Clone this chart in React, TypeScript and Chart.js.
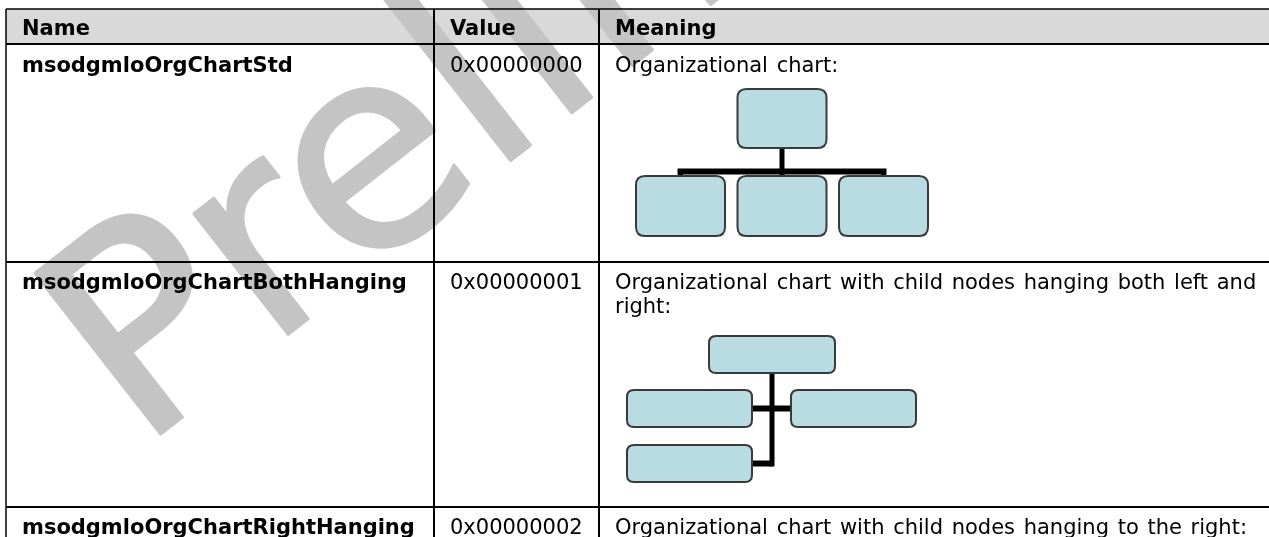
import { useEffect, useRef } from 'react';
import { Chart, registerables } from 'chart.js';

Chart.register(...registerables);

// ---------- data ----------
const COLUMNS = ['Name', 'Value', 'Meaning'];
const NAMES = ['msodgmloOrgChartStd', 'msodgmloOrgChartBothHanging', 'msodgmloOrgChartRightHanging'];
const VALUES = ['0x00000000', '0x00000001', '0x00000002'];
const MEANINGS = [
  'Organizational chart:',
  'Organizational chart with child nodes hanging both left and right:',
  'Organizational chart with child nodes hanging to the right:',
];
// diagram kind per row and number of child nodes shown in it
const DIAGRAM_KINDS = ['standard', 'bothHanging', 'rightHanging'];
const CHILD_COUNTS = [3, 3, 0];
const WATERMARK = 'Preliminary';

// ---------- layout ----------
const W = 1269;
const H = 537;
const COL_EDGES = [6, 434, 599, 1320];
const ROW_EDGES = [9, 44, 262, 507, 640];
const PAD_X = 16;
const BASELINE_OFF = [26, 28, 27, 27];
const LINE_H = 23.5;
const FONT_SIZE = 21;
const FONT_FAMILY = '"DejaVu Sans", Verdana, sans-serif';
const WRAP_W = 660;

const WM_SIZE = 280;
const WM_ANGLE = -38;
const WM_ORIGIN = [139, 451];

const BOX_FILL = '#b8dce1';
const BOX_STROKE = '#3a3a3a';
const HEADER_FILL = '#d9d9d9';
const WM_COLOR = '#c4c4c4';

function roundRect(ctx: CanvasRenderingContext2D, x0: number, y0: number, x1: number, y1: number, r: number) {
  ctx.beginPath();
  ctx.moveTo(x0 + r, y0);
  ctx.lineTo(x1 - r, y0);
  ctx.quadraticCurveTo(x1, y0, x1, y0 + r);
  ctx.lineTo(x1, y1 - r);
  ctx.quadraticCurveTo(x1, y1, x1 - r, y1);
  ctx.lineTo(x0 + r, y1);
  ctx.quadraticCurveTo(x0, y1, x0, y1 - r);
  ctx.lineTo(x0, y0 + r);
  ctx.quadraticCurveTo(x0, y0, x0 + r, y0);
  ctx.closePath();
  ctx.fillStyle = BOX_FILL;
  ctx.fill();
  ctx.lineWidth = 2;
  ctx.strokeStyle = BOX_STROKE;
  ctx.stroke();
}

function wrapLines(ctx: CanvasRenderingContext2D, text: string, maxW: number): string[] {
  const words = text.split(' ');
  const lines: string[] = [];
  let cur = '';
  for (const w of words) {
    const t = cur ? cur + ' ' + w : w;
    if (cur && ctx.measureText(t).width > maxW) {
      lines.push(cur);
      cur = w;
    } else cur = t;
  }
  if (cur) lines.push(cur);
  return lines;
}

function seg(ctx: CanvasRenderingContext2D, x0: number, y0: number, x1: number, y1: number, w: number) {
  ctx.strokeStyle = '#000';
  ctx.lineWidth = w;
  ctx.lineCap = 'butt';
  ctx.beginPath();
  ctx.moveTo(x0, y0);
  ctx.lineTo(x1, y1);
  ctx.stroke();
}

const tablePlugin = {
  id: 'docTable',
  afterDraw(chart: any) {
    const ctx: CanvasRenderingContext2D = chart.ctx;
    const xs = chart.scales.x;
    const ys = chart.scales.y;
    const px = (v: number) => xs.getPixelForValue(v);
    const py = (v: number) => ys.getPixelForValue(v);

    ctx.save();
    // page background
    ctx.fillStyle = '#ffffff';
    ctx.fillRect(px(0), py(0), px(W) - px(0), py(H) - py(0));

    // header shading
    ctx.fillStyle = HEADER_FILL;
    ctx.fillRect(px(COL_EDGES[0]), py(ROW_EDGES[0]), px(COL_EDGES[3]) - px(COL_EDGES[0]), py(ROW_EDGES[1]) - py(ROW_EDGES[0]));

    // watermark
    ctx.save();
    ctx.translate(px(WM_ORIGIN[0]), py(WM_ORIGIN[1]));
    ctx.rotate((WM_ANGLE * Math.PI) / 180);
    ctx.font = WM_SIZE + 'px ' + FONT_FAMILY;
    ctx.fillStyle = WM_COLOR;
    ctx.strokeStyle = WM_COLOR;
    ctx.lineWidth = 3;
    ctx.lineJoin = 'round';
    ctx.textBaseline = 'alphabetic';
    ctx.fillText(WATERMARK, 0, 0);
    ctx.strokeText(WATERMARK, 0, 0);
    ctx.restore();

    // diagrams
    DIAGRAM_KINDS.forEach((kind, r) => {
      const n = CHILD_COUNTS[r];
      if (n === 0) return;
      if (kind === 'standard') {
        const ox = 636, oy = 89;
        const cw = 89, ch = 60, step = 101.5;
        const mid = (n - 1) / 2;
        const midX = ox + mid * step + cw / 2;
        const rootW = 89, rootH = 59;
        const barY = oy + 82.5;
        const childTop = oy + 87;
        seg(ctx, px(midX), py(oy + rootH), px(midX), py(barY), 5);
        seg(ctx, px(ox + cw / 2 - 3), py(barY), px(ox + (n - 1) * step + cw / 2 + 3), py(barY), 6);
        for (let i = 0; i < n; i++) {
          const cx = ox + i * step + cw / 2;
          seg(ctx, px(cx), py(barY), px(cx), py(childTop + 1), 5);
        }
        roundRect(ctx, px(midX - rootW / 2), py(oy), px(midX + rootW / 2), py(oy + rootH), 9);
        for (let i = 0; i < n; i++) {
          const x0 = ox + i * step;
          roundRect(ctx, px(x0), py(childTop), px(x0 + cw), py(childTop + ch), 9);
        }
      } else if (kind === 'bothHanging') {
        const ox = 627, oy = 336;
        const bw = 125, bh = 37;
        const spineX = 772;
        const rowTop = 390, rowStep = 55;
        const rootW = 126;
        const rows = Math.ceil(n / 2);
        const lastCy = rowTop + (rows - 1) * rowStep + bh / 2;
        seg(ctx, px(spineX), py(oy + bh), px(spineX), py(lastCy + 3), 5);
        const boxes: number[][] = [];
        for (let i = 0; i < n; i++) {
          const row = Math.floor(i / 2);
          const left = i % 2 === 0;
          const y0 = rowTop + row * rowStep;
          const x0 = left ? ox : spineX + 19;
          const cy = y0 + bh / 2;
          seg(ctx, px(spineX), py(cy), px(left ? x0 + bw : x0), py(cy), 6);
          boxes.push([x0, y0]);
        }
        roundRect(ctx, px(spineX - rootW / 2), py(oy), px(spineX + rootW / 2), py(oy + bh), 7);
        boxes.forEach(([x0, y0]) => roundRect(ctx, px(x0), py(y0), px(x0 + bw), py(y0 + bh), 7));
      }
    });

    // grid lines
    ROW_EDGES.slice(0, 4).forEach((y, i) => {
      seg(ctx, px(COL_EDGES[0]), py(y), px(COL_EDGES[3]), py(y), i === 0 ? 1.5 : 2);
    });
    COL_EDGES.slice(0, 3).forEach((x, i) => {
      seg(ctx, px(x), py(ROW_EDGES[0]), px(x), py(ROW_EDGES[4]), i === 0 ? 1.5 : 2);
    });

    // text
    ctx.fillStyle = '#000';
    ctx.textBaseline = 'alphabetic';
    ctx.textAlign = 'left';
    ctx.font = 'bold ' + FONT_SIZE + 'px ' + FONT_FAMILY;
    COLUMNS.forEach((c, i) => {
      ctx.fillText(c, px(COL_EDGES[i] + PAD_X), py(ROW_EDGES[0] + BASELINE_OFF[0]));
    });
    NAMES.forEach((name, r) => {
      const by = ROW_EDGES[r + 1] + BASELINE_OFF[r + 1];
      ctx.font = 'bold ' + FONT_SIZE + 'px ' + FONT_FAMILY;
      (ctx as any).wordSpacing = '0px';
      ctx.fillText(name, px(COL_EDGES[0] + PAD_X), py(by));
      ctx.font = FONT_SIZE + 'px ' + FONT_FAMILY;
      ctx.fillText(VALUES[r], px(COL_EDGES[1] + PAD_X), py(by));
      (ctx as any).wordSpacing = '2px';
      const lines = wrapLines(ctx, MEANINGS[r], WRAP_W);
      lines.forEach((ln, k) => ctx.fillText(ln, px(COL_EDGES[2] + PAD_X), py(by + k * LINE_H)));
      (ctx as any).wordSpacing = '0px';
    });
    ctx.restore();
  },
};

export default function App() {
  const ref = useRef<HTMLCanvasElement>(null);
  useEffect(() => {
    document.body.style.margin = '0';
    document.body.style.overflow = 'hidden';
    const chart = new Chart(ref.current as HTMLCanvasElement, {
      type: 'scatter',
      data: { datasets: [] },
      options: {
        responsive: false,
        animation: false,
        events: [],
        layout: { padding: 0 },
        plugins: {
          legend: { display: false },
          tooltip: { enabled: false },
          title: { display: false },
        },
        scales: {
          x: { type: 'linear', min: 0, max: W, display: false },
          y: { type: 'linear', min: 0, max: H, reverse: true, display: false },
        },
      },
      plugins: [tablePlugin],
    });
    return () => chart.destroy();
  }, []);
  return (
    <div style={{ width: W, height: H, overflow: 'hidden', background: '#fff' }}>
      <canvas ref={ref} width={W} height={H} style={{ display: 'block', width: W, height: H }} />
    </div>
  );
}
